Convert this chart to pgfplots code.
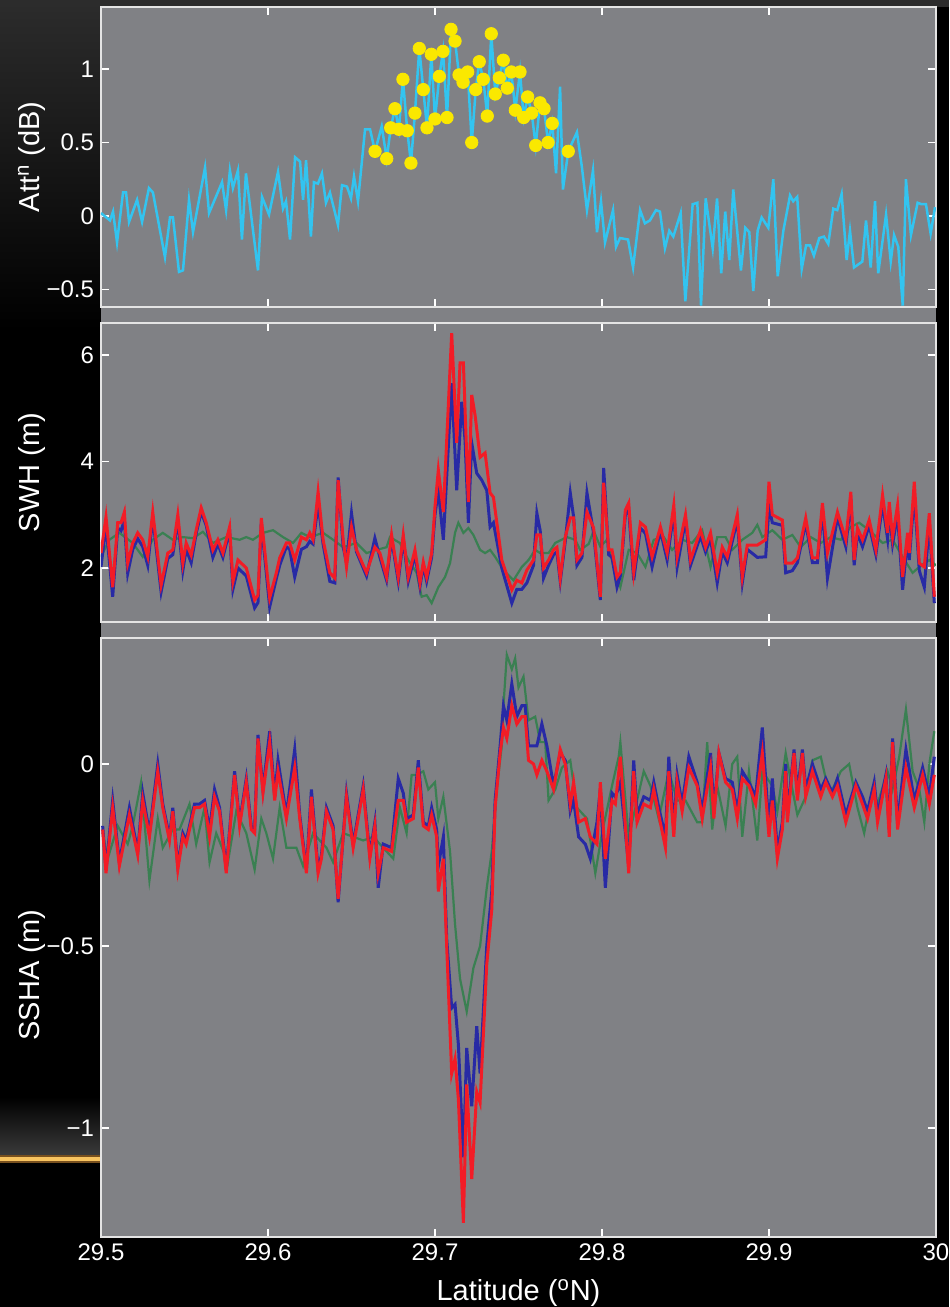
\documentclass[border=0pt]{standalone}
\usepackage{pgfplots}
\pgfplotsset{compat=1.18}
\usepackage{pgfplotstable}
\usepackage{fontspec}
\setmainfont{Liberation Sans}

\definecolor{panelgray}{RGB}{128,129,133}
\definecolor{framec}{RGB}{228,228,228}
\definecolor{cyanline}{RGB}{50,196,240}
\definecolor{ydot}{RGB}{250,232,0}
\definecolor{bl}{RGB}{40,42,165}
\definecolor{rd}{RGB}{242,28,38}
\definecolor{gr}{RGB}{58,128,82}
\definecolor{topgray}{RGB}{44,44,44}
\definecolor{orangeline}{RGB}{248,196,96}
\definecolor{orangeglow}{RGB}{120,80,30}

% ---------- Panel 1: attenuation ----------
\pgfplotstableread{
x y
29.5000 0.02
29.5054 -0.03
29.5072 0.03
29.5096 -0.18
29.5132 0.16
29.5150 0.16
29.5168 -0.04
29.5216 0.11
29.5246 -0.04
29.5287 0.19
29.5311 0.16
29.5383 -0.28
29.5413 -0.01
29.5431 -0.01
29.5467 -0.38
29.5491 -0.37
29.5527 0.11
29.5551 -0.11
29.5587 0.11
29.5623 0.33
29.5647 0.02
29.5725 0.23
29.5749 0.04
29.5772 0.31
29.5790 0.19
29.5820 0.31
29.5844 -0.16
29.5868 0.29
29.5940 -0.37
29.5964 0.13
29.6006 0.01
29.6060 0.30
29.6090 0.05
29.6108 0.10
29.6132 -0.16
29.6162 0.40
29.6192 0.37
29.6210 0.11
29.6228 0.38
29.6257 -0.14
29.6275 0.23
29.6299 0.22
29.6323 0.29
29.6347 0.09
29.6371 0.16
29.6419 -0.06
29.6443 0.21
29.6473 0.20
29.6497 0.12
29.6515 0.27
29.6539 0.10
29.6581 0.59
29.6611 0.59
29.6641 0.44
29.6681 0.61
29.6711 0.39
29.6735 0.60
29.6760 0.73
29.6784 0.59
29.6808 0.93
29.6834 0.58
29.6856 0.36
29.6880 0.70
29.6906 1.14
29.6930 0.86
29.6952 0.60
29.6978 1.10
29.7000 0.66
29.7026 0.95
29.7048 1.12
29.7072 0.67
29.7096 1.27
29.7120 1.19
29.7144 0.96
29.7168 0.91
29.7196 0.98
29.7220 0.50
29.7244 0.86
29.7265 1.05
29.7289 0.93
29.7313 0.68
29.7337 1.24
29.7361 0.83
29.7385 0.94
29.7409 1.06
29.7433 0.87
29.7457 0.98
29.7481 0.72
29.7509 0.98
29.7531 0.67
29.7555 0.81
29.7579 0.70
29.7603 0.48
29.7629 0.77
29.7653 0.73
29.7677 0.50
29.7702 0.63
29.7725 0.29
29.7749 0.88
29.7766 0.18
29.7798 0.44
29.7850 0.57
29.7880 0.33
29.7910 0.04
29.7946 0.31
29.7970 -0.11
29.7994 0.10
29.8018 -0.18
29.8066 0.04
29.8084 -0.21
29.8108 -0.15
29.8156 -0.16
29.8186 -0.35
29.8228 0.04
29.8257 -0.05
29.8287 -0.03
29.8323 0.04
29.8347 0.03
29.8377 -0.22
29.8403 -0.10
29.8427 -0.14
29.8471 0.02
29.8499 -0.58
29.8543 0.08
29.8571 0.09
29.8593 -0.61
29.8621 0.12
29.8663 -0.22
29.8689 0.12
29.8714 -0.39
29.8738 0.03
29.8762 -0.30
29.8786 0.18
29.8832 -0.37
29.8858 -0.08
29.8882 -0.11
29.8906 -0.51
29.8932 -0.10
29.8956 -0.01
29.8996 -0.08
29.9026 0.25
29.9052 -0.41
29.9086 -0.10
29.9126 0.14
29.9145 0.10
29.9169 0.13
29.9196 -0.36
29.9222 -0.20
29.9246 -0.20
29.9269 -0.27
29.9301 -0.15
29.9329 -0.14
29.9355 -0.19
29.9385 0.05
29.9409 0.04
29.9435 0.15
29.9465 -0.30
29.9485 -0.10
29.9509 -0.35
29.9559 -0.31
29.9581 -0.03
29.9609 -0.35
29.9635 0.10
29.9654 -0.39
29.9701 0.01
29.9729 -0.31
29.9749 -0.13
29.9774 -0.21
29.9801 -0.61
29.9820 0.25
29.9850 -0.13
29.9890 0.09
29.9914 0.08
29.9940 0.08
29.9968 -0.12
29.9994 0.06
}\attline

\pgfplotstableread{
x y
29.6641 0.44
29.6711 0.39
29.6735 0.60
29.6760 0.73
29.6784 0.59
29.6808 0.93
29.6834 0.58
29.6856 0.36
29.6880 0.70
29.6906 1.14
29.6930 0.86
29.6952 0.60
29.6978 1.10
29.7000 0.66
29.7026 0.95
29.7048 1.12
29.7072 0.67
29.7096 1.27
29.7120 1.19
29.7144 0.96
29.7168 0.91
29.7196 0.98
29.7220 0.50
29.7244 0.86
29.7265 1.05
29.7289 0.93
29.7313 0.68
29.7337 1.24
29.7361 0.83
29.7385 0.94
29.7409 1.06
29.7433 0.87
29.7457 0.98
29.7481 0.72
29.7509 0.98
29.7531 0.67
29.7555 0.81
29.7579 0.70
29.7603 0.48
29.7629 0.77
29.7653 0.73
29.7677 0.50
29.7702 0.63
29.7798 0.44
}\attpts

% ---------- Panel 2: SWH ----------
\pgfplotstableread{
x y
29.500 2.28
29.503 2.96
29.507 1.64
29.510 2.85
29.512 2.85
29.514 3.05
29.516 2.09
29.519 2.47
29.522 2.66
29.525 2.53
29.528 2.21
29.531 3.05
29.536 1.68
29.540 2.28
29.543 2.34
29.546 3.00
29.549 2.09
29.551 2.47
29.554 2.24
29.557 2.71
29.560 3.13
29.563 2.85
29.567 2.34
29.570 2.53
29.573 2.28
29.577 2.77
29.579 1.74
29.582 2.15
29.587 2.00
29.592 1.40
29.594 1.49
29.596 2.94
29.601 1.44
29.605 1.91
29.607 2.19
29.611 2.47
29.613 2.47
29.616 2.15
29.620 2.58
29.623 2.53
29.625 2.66
29.627 2.53
29.630 3.43
29.633 2.53
29.637 1.91
29.640 1.81
29.642 3.65
29.645 2.53
29.647 2.02
29.650 2.77
29.653 2.34
29.659 1.91
29.664 2.39
29.667 2.28
29.671 1.83
29.674 2.62
29.678 1.83
29.681 2.62
29.684 1.83
29.688 2.34
29.691 1.72
29.693 2.11
29.695 1.83
29.698 2.28
29.700 3.15
29.702 3.84
29.705 3.05
29.710 6.41
29.713 4.35
29.715 5.85
29.717 5.85
29.720 3.24
29.722 5.25
29.724 4.87
29.727 4.08
29.730 4.16
29.733 3.41
29.735 3.33
29.740 2.15
29.746 1.59
29.749 1.77
29.752 1.72
29.755 1.96
29.759 2.15
29.761 2.62
29.763 2.62
29.765 2.00
29.768 2.15
29.771 2.34
29.773 2.39
29.775 1.81
29.778 2.58
29.781 2.94
29.783 2.94
29.785 2.15
29.788 2.28
29.791 3.05
29.795 2.75
29.799 1.46
29.801 3.60
29.804 2.34
29.806 2.34
29.809 1.83
29.811 1.92
29.814 3.09
29.816 3.22
29.819 1.92
29.823 2.85
29.826 2.77
29.830 2.21
29.835 2.77
29.839 2.28
29.843 3.18
29.845 2.21
29.850 3.00
29.853 2.15
29.859 2.71
29.862 2.39
29.865 2.66
29.869 1.91
29.872 2.39
29.875 2.21
29.881 3.00
29.884 1.83
29.887 2.43
29.893 2.43
29.898 2.53
29.900 3.62
29.902 3.00
29.908 2.90
29.910 2.09
29.914 2.09
29.917 2.19
29.922 2.94
29.926 2.19
29.929 2.19
29.932 3.22
29.935 2.28
29.941 3.05
29.946 2.53
29.949 3.43
29.951 2.15
29.953 2.75
29.956 2.53
29.960 2.90
29.964 2.34
29.968 3.37
29.971 2.66
29.972 3.24
29.974 2.58
29.977 3.18
29.980 1.83
29.983 2.66
29.984 2.28
29.987 3.62
29.990 2.09
29.993 2.02
29.996 3.03
29.999 1.46
}\swhR

\pgfplotstableread{
x y
29.500 2.02
29.503 2.80
29.507 1.46
29.510 2.75
29.512 2.70
29.514 2.90
29.516 1.90
29.519 2.35
29.522 2.55
29.525 2.40
29.528 2.05
29.531 2.95
29.536 1.55
29.540 2.18
29.543 2.25
29.546 2.90
29.549 1.95
29.551 2.35
29.554 2.10
29.557 2.65
29.560 3.05
29.563 2.80
29.567 2.20
29.570 2.45
29.573 2.20
29.577 2.70
29.579 1.60
29.582 2.00
29.587 1.85
29.592 1.25
29.594 1.35
29.596 2.85
29.601 1.27
29.605 1.80
29.607 2.05
29.611 2.40
29.613 2.35
29.616 1.83
29.620 2.35
29.623 2.40
29.625 2.50
29.627 2.45
29.630 3.20
29.633 2.45
29.637 1.75
29.640 1.72
29.642 3.70
29.645 2.40
29.647 2.10
29.650 3.03
29.653 2.30
29.659 1.85
29.664 2.56
29.667 2.20
29.671 1.77
29.674 2.55
29.678 1.75
29.681 2.55
29.684 1.75
29.688 2.25
29.691 1.65
29.693 2.05
29.695 1.75
29.698 2.20
29.700 3.00
29.702 3.46
29.705 2.53
29.710 5.47
29.713 3.46
29.716 5.12
29.718 4.40
29.720 2.85
29.722 4.35
29.725 3.78
29.728 3.65
29.731 3.46
29.733 2.77
29.735 2.85
29.740 2.00
29.746 1.34
29.749 1.60
29.752 1.60
29.755 1.72
29.759 2.05
29.761 3.03
29.763 2.70
29.765 1.81
29.768 2.05
29.771 2.25
29.773 2.30
29.775 1.75
29.778 2.50
29.781 3.41
29.783 2.96
29.785 2.05
29.788 2.20
29.791 3.41
29.795 2.65
29.799 1.40
29.801 3.88
29.804 2.25
29.806 2.20
29.809 1.64
29.811 1.85
29.814 3.00
29.816 3.10
29.819 1.77
29.823 2.75
29.826 2.65
29.830 2.02
29.835 2.70
29.839 2.15
29.843 3.05
29.845 2.02
29.850 2.90
29.853 2.05
29.859 2.60
29.862 2.30
29.865 2.55
29.869 1.72
29.872 2.30
29.875 2.10
29.881 2.90
29.884 1.72
29.887 2.35
29.893 2.20
29.898 2.21
29.900 3.15
29.902 2.85
29.908 2.80
29.910 1.91
29.914 1.95
29.917 2.10
29.922 2.85
29.926 2.10
29.929 2.10
29.932 3.10
29.935 1.81
29.941 2.95
29.946 2.40
29.949 3.30
29.951 2.05
29.953 2.65
29.956 2.40
29.960 2.80
29.964 2.25
29.968 3.20
29.971 2.55
29.972 3.10
29.974 2.45
29.977 3.00
29.980 1.59
29.983 2.55
29.984 2.15
29.987 3.40
29.990 1.95
29.993 1.64
29.996 2.85
29.999 1.34
}\swhB

\pgfplotstableread{
x y
29.500 2.21
29.505 2.53
29.511 2.66
29.519 2.47
29.525 2.21
29.531 2.53
29.537 2.66
29.543 2.53
29.549 2.58
29.555 2.56
29.561 2.68
29.567 2.47
29.575 2.58
29.583 2.53
29.587 2.58
29.591 2.53
29.597 2.66
29.603 2.71
29.609 2.58
29.615 2.47
29.620 2.66
29.625 2.58
29.633 2.66
29.639 2.53
29.645 2.39
29.653 2.47
29.659 2.28
29.665 2.34
29.671 2.39
29.673 2.58
29.679 2.47
29.684 2.15
29.689 1.91
29.692 1.46
29.695 1.49
29.698 1.34
29.702 1.64
29.706 1.83
29.709 2.09
29.712 2.66
29.714 2.85
29.717 2.66
29.720 2.75
29.723 2.62
29.727 2.34
29.730 2.28
29.733 2.34
29.736 2.21
29.741 1.96
29.747 1.77
29.752 2.02
29.756 2.15
29.760 2.34
29.763 2.28
29.768 2.28
29.772 2.47
29.779 2.58
29.784 2.53
29.787 2.34
29.792 2.45
29.795 2.70
29.799 2.40
29.803 2.53
29.807 2.02
29.811 1.64
29.816 2.34
29.821 2.28
29.826 2.02
29.831 2.53
29.837 2.58
29.842 2.34
29.848 2.53
29.854 2.47
29.860 2.71
29.865 2.02
29.869 2.58
29.874 2.58
29.878 2.34
29.884 2.53
29.890 2.66
29.893 2.81
29.896 2.58
29.902 2.71
29.908 2.53
29.914 2.62
29.919 2.39
29.925 2.58
29.931 2.47
29.937 2.58
29.943 2.53
29.949 2.77
29.954 2.85
29.960 2.71
29.968 2.47
29.974 2.53
29.980 2.21
29.986 1.91
29.990 2.02
29.996 2.15
30.000 2.05
}\swhG

% ---------- Panel 3: SSHA ----------
\pgfplotstableread{
x y
29.501 -0.18
29.503 -0.30
29.507 -0.12
29.511 -0.28
29.517 -0.14
29.522 -0.25
29.525 -0.10
29.529 -0.20
29.534 -0.02
29.537 -0.12
29.541 -0.21
29.543 -0.13
29.546 -0.29
29.549 -0.20
29.551 -0.22
29.556 -0.12
29.559 -0.12
29.562 -0.11
29.565 -0.20
29.568 -0.09
29.571 -0.13
29.575 -0.30
29.580 -0.03
29.583 -0.17
29.587 -0.05
29.590 -0.18
29.592 -0.19
29.594 0.07
29.597 -0.08
29.601 0.06
29.604 -0.10
29.606 -0.02
29.611 -0.15
29.616 -0.01
29.619 -0.15
29.623 -0.30
29.626 -0.09
29.630 -0.30
29.632 -0.26
29.635 -0.13
29.639 -0.18
29.642 -0.37
29.647 -0.09
29.651 -0.23
29.657 -0.07
29.661 -0.26
29.664 -0.17
29.666 -0.30
29.669 -0.23
29.674 -0.24
29.678 -0.10
29.681 -0.10
29.683 -0.16
29.687 -0.15
29.690 -0.01
29.693 -0.17
29.696 -0.18
29.698 -0.14
29.701 -0.20
29.702 -0.35
29.705 -0.26
29.707 -0.50
29.710 -0.85
29.712 -0.81
29.714 -0.92
29.717 -1.26
29.719 -0.88
29.722 -1.14
29.725 -0.90
29.727 -0.93
29.731 -0.55
29.734 -0.40
29.736 -0.12
29.739 0.03
29.741 0.10
29.743 0.07
29.746 0.16
29.749 0.11
29.752 0.13
29.754 0.13
29.756 0.01
29.759 0.00
29.761 -0.03
29.764 0.01
29.767 -0.02
29.771 -0.07
29.775 0.04
29.778 0.00
29.781 -0.11
29.783 -0.05
29.786 -0.16
29.790 -0.15
29.793 -0.20
29.797 -0.22
29.799 -0.05
29.802 -0.26
29.806 -0.10
29.808 -0.11
29.811 0.02
29.816 -0.30
29.819 -0.02
29.821 -0.16
29.825 -0.11
29.829 -0.12
29.831 -0.07
29.834 -0.14
29.838 -0.23
29.840 -0.02
29.843 -0.20
29.845 -0.05
29.848 -0.13
29.852 -0.01
29.857 -0.06
29.860 -0.15
29.865 -0.01
29.867 -0.15
29.870 0.03
29.874 -0.05
29.878 -0.07
29.881 -0.15
29.884 -0.04
29.888 -0.06
29.892 -0.11
29.896 0.03
29.900 -0.20
29.902 -0.10
29.905 -0.26
29.908 -0.18
29.910 -0.02
29.911 -0.16
29.915 0.03
29.917 -0.10
29.920 0.03
29.922 -0.09
29.926 -0.02
29.931 -0.09
29.934 -0.05
29.938 -0.09
29.941 -0.06
29.946 -0.16
29.952 -0.06
29.956 -0.11
29.959 -0.15
29.963 -0.07
29.965 -0.16
29.970 -0.04
29.972 -0.20
29.974 0.06
29.977 -0.18
29.982 -0.01
29.987 -0.12
29.992 -0.03
29.996 -0.11
29.999 -0.03
}\sshR

\pgfplotstableread{
x y
29.501 -0.17
29.503 -0.29
29.507 -0.10
29.511 -0.27
29.517 -0.12
29.522 -0.24
29.525 -0.08
29.529 -0.19
29.534 0.00
29.537 -0.11
29.541 -0.20
29.543 -0.12
29.546 -0.28
29.549 -0.19
29.551 -0.21
29.556 -0.11
29.559 -0.11
29.562 -0.10
29.565 -0.18
29.568 -0.07
29.571 -0.12
29.575 -0.29
29.580 -0.02
29.583 -0.16
29.587 -0.04
29.590 -0.17
29.592 -0.18
29.594 0.08
29.597 -0.07
29.601 0.09
29.604 -0.09
29.606 0.01
29.611 -0.14
29.616 0.04
29.619 -0.14
29.623 -0.29
29.626 -0.07
29.630 -0.29
29.632 -0.25
29.635 -0.12
29.639 -0.17
29.642 -0.38
29.647 -0.08
29.651 -0.22
29.657 -0.06
29.661 -0.25
29.664 -0.16
29.666 -0.34
29.669 -0.22
29.674 -0.23
29.678 -0.04
29.681 -0.08
29.683 -0.15
29.687 -0.14
29.690 0.01
29.693 -0.16
29.696 -0.17
29.698 -0.12
29.701 -0.18
29.702 -0.28
29.705 -0.20
29.707 -0.48
29.710 -0.67
29.712 -0.66
29.714 -0.77
29.717 -1.08
29.719 -0.78
29.722 -0.94
29.725 -0.72
29.727 -0.85
29.731 -0.50
29.734 -0.35
29.736 -0.10
29.739 0.05
29.741 0.16
29.743 0.12
29.746 0.22
29.749 0.13
29.752 0.16
29.754 0.16
29.756 0.05
29.759 0.05
29.761 0.05
29.764 0.11
29.767 0.05
29.771 -0.06
29.775 0.03
29.778 0.01
29.781 -0.13
29.783 -0.10
29.786 -0.20
29.790 -0.22
29.793 -0.26
29.797 -0.16
29.799 -0.07
29.802 -0.34
29.806 -0.08
29.808 -0.09
29.811 -0.05
29.816 -0.28
29.819 0.01
29.821 -0.14
29.825 -0.09
29.829 -0.10
29.831 -0.05
29.834 -0.12
29.838 -0.20
29.840 0.02
29.843 -0.18
29.845 -0.03
29.848 -0.11
29.852 0.02
29.857 -0.05
29.860 -0.13
29.865 0.03
29.867 -0.13
29.870 0.03
29.874 -0.04
29.878 -0.05
29.881 -0.13
29.884 -0.02
29.888 -0.05
29.892 -0.09
29.896 0.10
29.900 -0.18
29.902 -0.04
29.905 -0.24
29.908 -0.16
29.910 0.00
29.911 -0.14
29.915 0.04
29.917 -0.08
29.920 0.04
29.922 -0.07
29.926 0.00
29.931 -0.07
29.934 -0.04
29.938 -0.08
29.941 -0.04
29.946 -0.14
29.952 -0.05
29.956 -0.09
29.959 -0.13
29.963 -0.05
29.965 -0.14
29.970 -0.03
29.972 -0.18
29.974 0.07
29.977 -0.16
29.982 0.04
29.987 -0.10
29.992 -0.01
29.996 -0.09
29.999 0.02
}\sshB

\pgfplotstableread{
x y
29.501 -0.19
29.504 -0.26
29.510 -0.17
29.516 -0.22
29.519 -0.17
29.524 -0.05
29.529 -0.32
29.534 -0.15
29.537 -0.23
29.543 -0.18
29.547 -0.18
29.553 -0.11
29.557 -0.22
29.562 -0.12
29.565 -0.27
29.569 -0.19
29.576 -0.27
29.581 -0.13
29.587 -0.19
29.592 -0.29
29.596 -0.15
29.599 -0.19
29.603 -0.26
29.607 -0.12
29.611 -0.23
29.617 -0.23
29.621 -0.28
29.627 -0.19
29.635 -0.23
29.639 -0.27
29.645 -0.19
29.657 -0.21
29.663 -0.20
29.669 -0.23
29.675 -0.26
29.679 -0.12
29.683 -0.19
29.686 -0.03
29.689 -0.03
29.693 -0.02
29.696 -0.07
29.700 -0.05
29.702 -0.15
29.705 -0.09
29.709 -0.24
29.712 -0.44
29.715 -0.59
29.719 -0.68
29.723 -0.56
29.727 -0.50
29.731 -0.34
29.734 -0.24
29.737 -0.07
29.740 0.05
29.741 0.16
29.743 0.30
29.746 0.26
29.748 0.29
29.750 0.21
29.753 0.24
29.756 0.12
29.760 0.13
29.763 0.06
29.766 0.06
29.768 -0.10
29.772 -0.07
29.776 -0.01
29.781 0.01
29.785 -0.12
29.791 -0.15
29.796 -0.30
29.800 -0.19
29.806 -0.06
29.810 0.02
29.811 0.06
29.816 -0.20
29.821 -0.10
29.825 -0.02
29.829 -0.06
29.834 -0.15
29.840 -0.02
29.845 -0.10
29.850 -0.10
29.857 -0.16
29.860 -0.16
29.863 0.06
29.866 -0.18
29.869 -0.06
29.874 -0.17
29.878 0.00
29.881 0.02
29.884 -0.20
29.888 -0.02
29.893 -0.21
29.896 -0.02
29.902 -0.06
29.905 -0.13
29.910 0.03
29.914 -0.07
29.917 -0.14
29.922 -0.09
29.926 0.01
29.931 0.02
29.935 -0.06
29.938 -0.07
29.943 -0.02
29.948 0.00
29.953 -0.12
29.957 -0.19
29.962 -0.07
29.965 -0.11
29.971 -0.02
29.974 -0.07
29.978 0.02
29.982 0.15
29.986 -0.02
29.990 -0.07
29.993 -0.16
29.996 0.00
29.999 0.09
}\sshG

\pgfplotsset{
  panel/.style={
    scale only axis,
    width=417.5pt,
    xmin=29.5, xmax=30,
    anchor=south west,
    axis background/.style={fill=panelgray},
    axis line style={framec, line width=1pt},
    tick align=inside,
    major tick style={white, line width=0.8pt},
    major tick length=4pt,
    xtick={29.5,29.6,29.7,29.8,29.9,30},
    tick label style={font=\fontsize{12}{14}\selectfont, text=white},
    label style={font=\fontsize{14.5}{17}\selectfont, text=white},
    ylabel style={at={(axis description cs:-0.083,0.5)}, anchor=center},
  }
}

\begin{document}
\begin{tikzpicture}[x=1pt,y=1pt]
% background
\path[use as bounding box] (0,0) rectangle (474.5,653.5);
\fill[black] (0,0) rectangle (474.5,653.5);
\shade[top color=topgray, bottom color=black] (0,488.5) rectangle (50.5,653.5);
\fill[topgray] (0,650) rectangle (474.5,653.5);
\shade[top color=black, bottom color={rgb,255:red,60;green,60;blue,60}] (0,75) rectangle (50.5,105);
\fill[orangeglow] (0,72) rectangle (50.5,76);
\fill[orangeline] (0,73) rectangle (50.5,75);
\fill[panelgray] (50.5,35) rectangle (468,650.5);

% Panel 1
\begin{axis}[panel, at={(50.5pt,500pt)}, height=150pt,
  ymin=-0.619, ymax=1.422,
  ytick={-0.5,0,0.5,1}, yticklabels={−0.5,0,0.5,1},
  xticklabels={},
  ylabel={Att\textsuperscript{n} (dB)}]
\addplot[cyanline, line width=1.25pt] table {\attline};
\addplot[only marks, mark=*, mark size=3.1pt, mark options={fill=ydot, draw=ydot}] table {\attpts};
\end{axis}

% Panel 2
\begin{axis}[panel, at={(50.5pt,342.5pt)}, height=149.5pt,
  ymin=0.986, ymax=6.601,
  ytick={2,4,6}, yticklabels={2,4,6},
  xticklabels={},
  ylabel={SWH (m)}]
\addplot[gr, line width=1.1pt] table {\swhG};
\addplot[bl, line width=1.5pt] table {\swhB};
\addplot[rd, line width=1.5pt] table {\swhR};
\end{axis}

% Panel 3
\begin{axis}[panel, at={(50.5pt,35pt)}, height=299.5pt,
  ymin=-1.299, ymax=0.346,
  ytick={-1,-0.5,0}, yticklabels={−1,−0.5,0},
  xticklabels={29.5,29.6,29.7,29.8,29.9,30},
  ylabel={SSHA (m)},
  ylabel style={at={(axis description cs:-0.083,0.437)}, anchor=center},
  xlabel={Latitude (\textsuperscript{o}N)},
  xlabel style={at={(axis description cs:0.5,-0.0935)}, anchor=center}]
\addplot[gr, line width=1.1pt] table {\sshG};
\addplot[bl, line width=1.5pt] table {\sshB};
\addplot[rd, line width=1.5pt] table {\sshR};
\end{axis}
\end{tikzpicture}
\end{document}
